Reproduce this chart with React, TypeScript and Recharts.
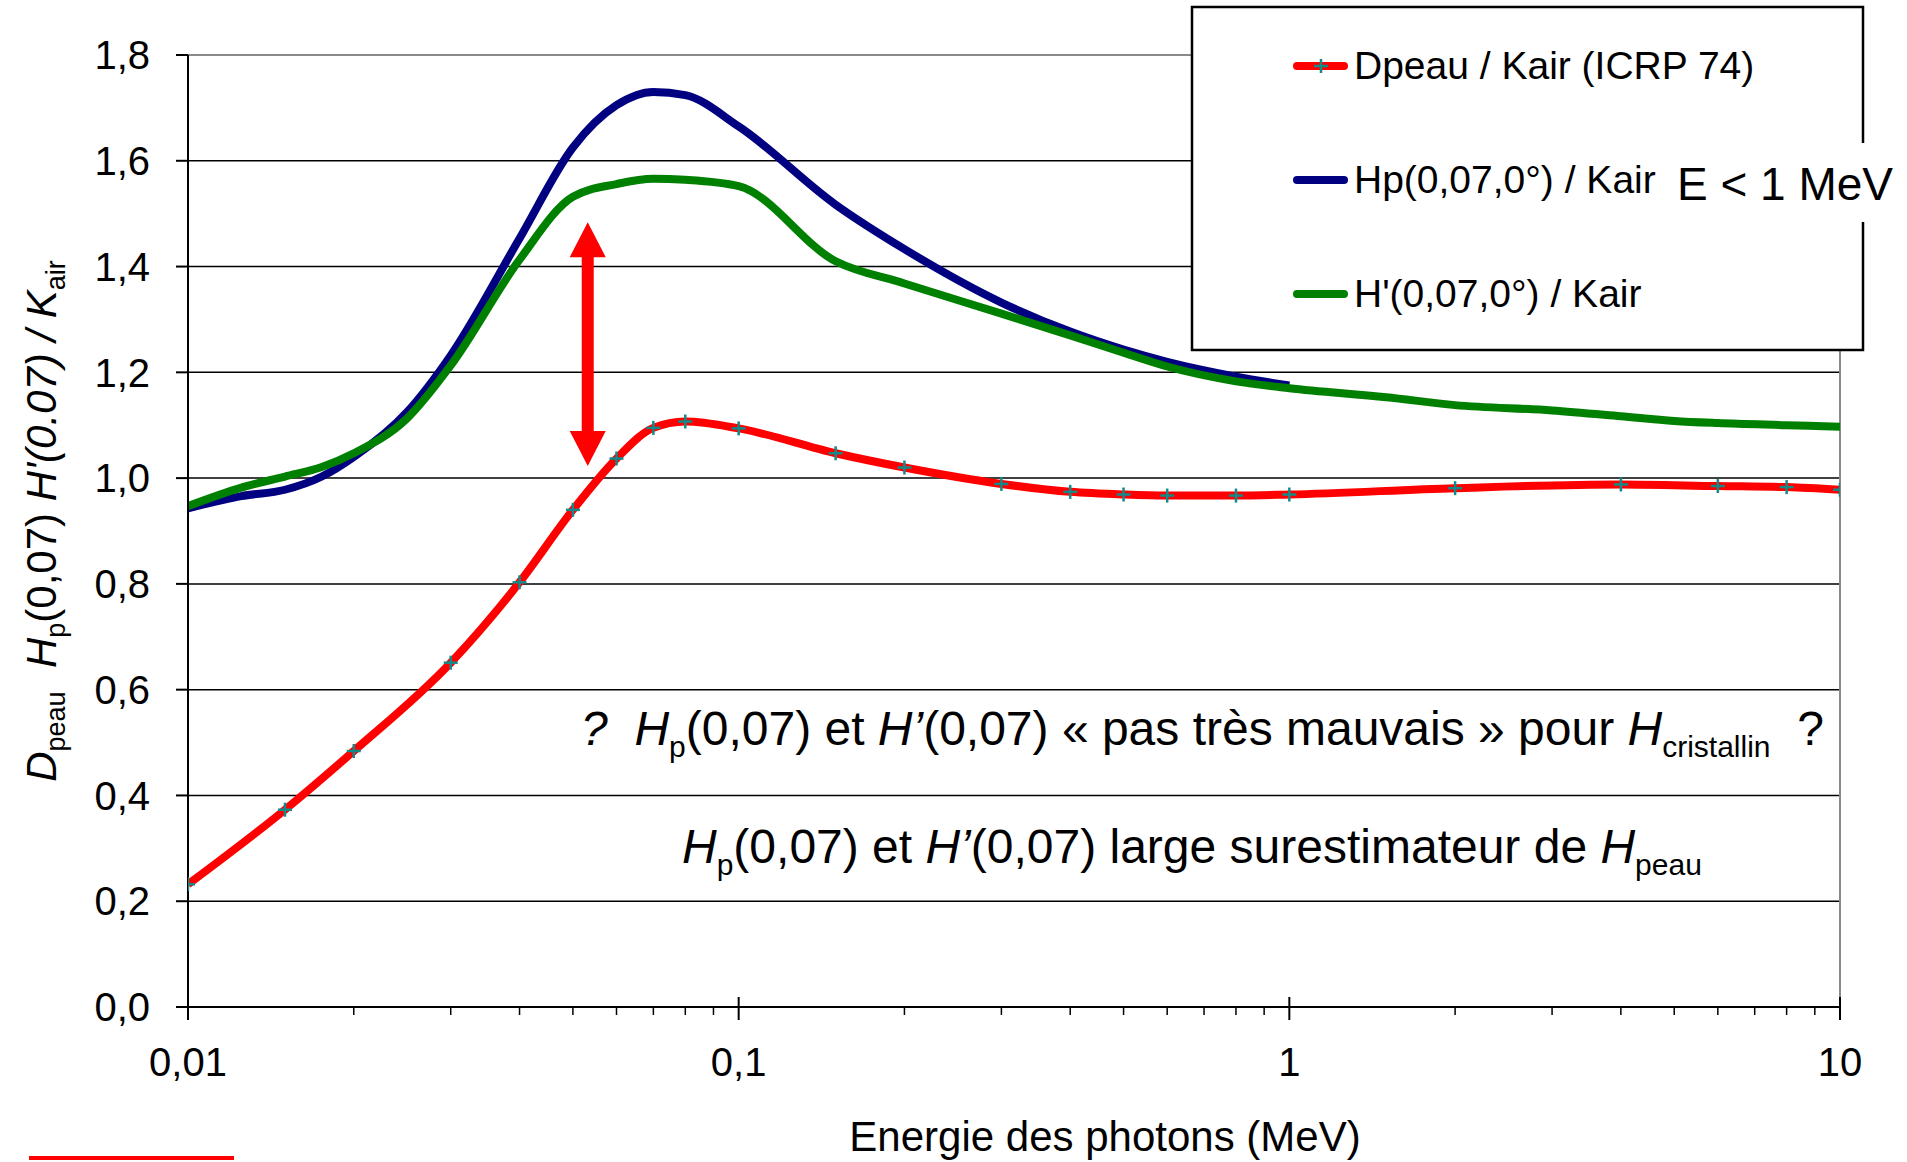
import React from 'react';
import { LineChart, Line, XAxis, YAxis, CartesianGrid, ReferenceLine } from 'recharts';

// ---------- data ----------
const dpeauEnergies = [0.01, 0.015, 0.02, 0.03, 0.04, 0.05, 0.06, 0.07, 0.08, 0.1, 0.15, 0.2, 0.3, 0.4, 0.5, 0.6, 0.8, 1, 2, 4, 6, 8, 10];
const dpeauValues = [0.232, 0.373, 0.484, 0.651, 0.803, 0.94, 1.037, 1.095, 1.107, 1.094, 1.047, 1.02, 0.989, 0.974, 0.969, 0.967, 0.967, 0.969, 0.981, 0.988, 0.985, 0.983, 0.978];

const hpEnergies = [0.01, 0.0125, 0.015, 0.0175, 0.02, 0.025, 0.03, 0.04, 0.05, 0.06, 0.07, 0.08, 0.1, 0.15, 0.2, 0.3, 0.4, 0.5, 0.6, 0.8, 1];
const hpValues = [0.943, 0.966, 0.978, 1.003, 1.04, 1.125, 1.232, 1.453, 1.625, 1.705, 1.73, 1.724, 1.665, 1.517, 1.433, 1.332, 1.277, 1.243, 1.22, 1.192, 1.175];

const hprimeEnergies = [0.01, 0.0125, 0.015, 0.0175, 0.02, 0.025, 0.03, 0.04, 0.05, 0.06, 0.07, 0.08, 0.1, 0.15, 0.2, 0.3, 0.4, 0.5, 0.6, 0.8, 1, 1.5, 2, 3, 4, 5, 6, 8, 10];
const hprimeValues = [0.947, 0.982, 1.003, 1.021, 1.047, 1.113, 1.213, 1.413, 1.532, 1.556, 1.566, 1.564, 1.552, 1.41, 1.368, 1.311, 1.27, 1.237, 1.211, 1.183, 1.17, 1.153, 1.138, 1.128, 1.117, 1.108, 1.104, 1.1, 1.097];

const seriesNames = ['Dpeau / Kair (ICRP 74)', 'Hp(0,07,0°) / Kair', "H'(0,07,0°) / Kair"];

const xMajorTicks = [0.01, 0.1, 1, 10];
const xMajorLabels = ['0,01', '0,1', '1', '10'];
const xAllTicks = [
  0.01, 0.02, 0.03, 0.04, 0.05, 0.06, 0.07, 0.08, 0.09,
  0.1, 0.2, 0.3, 0.4, 0.5, 0.6, 0.7, 0.8, 0.9,
  1, 2, 3, 4, 5, 6, 7, 8, 9, 10,
];
const yTicks = [0, 0.2, 0.4, 0.6, 0.8, 1.0, 1.2, 1.4, 1.6, 1.8];

// annotation arrow (energy, value of tips)
const arrowEnergy = 0.0532;
const arrowTop = 1.484;
const arrowBottom = 1.023;

const toPoints = (es: number[], vs: number[]) => es.map((e, i) => ({ e, v: vs[i] }));
const dpeauData = toPoints(dpeauEnergies, dpeauValues);
const hpData = toPoints(hpEnergies, hpValues);
const hprimeData = toPoints(hprimeEnergies, hprimeValues);

// ---------- styles ----------
const W = 1907;
const H = 1162;
const FONT = '"Liberation Sans", Arial, Helvetica, sans-serif';
const RED = '#FF0000';
const BLUE = '#000080';
const GREEN = '#008000';
const MARK = '#138a8a';

const PlusDot = (p: any) => {
  const { cx, cy, index } = p;
  if (cx == null || cy == null) return <g key={`pd-${index}`} />;
  return (
    <g key={`pd-${index}`}>
      <line x1={cx - 7} x2={cx + 7} y1={cy} y2={cy} stroke={MARK} strokeWidth={2.5} />
      <line x1={cx} x2={cx} y1={cy - 7} y2={cy + 7} stroke={MARK} strokeWidth={2.5} />
    </g>
  );
};

const XTick = (p: any) => {
  const { x, y, payload } = p;
  const v = payload.value;
  const idx = xMajorTicks.findIndex((m) => Math.abs(m - v) / m < 1e-6);
  if (idx >= 0) {
    return (
      <g>
        <line x1={x} x2={x} y1={y - 10} y2={y + 13} stroke="#000" strokeWidth={2} />
        <text x={x} y={y + 69} textAnchor="middle" fontSize={40} fill="#000" fontFamily={FONT}>
          {xMajorLabels[idx]}
        </text>
      </g>
    );
  }
  return <line x1={x} x2={x} y1={y} y2={y + 8} stroke="#000" strokeWidth={1.5} />;
};

const ArrowShape = (p: any) => {
  const { x1, y1, y2 } = p;
  if (x1 == null) return <g />;
  const x = x1;
  const top = Math.min(y1, y2);
  const bot = Math.max(y1, y2);
  const hh = 35;
  const hw = 18;
  const sw = 6;
  const d = `M${x},${top} L${x + hw},${top + hh} L${x + sw},${top + hh} L${x + sw},${bot - hh} L${x + hw},${bot - hh} L${x},${bot} L${x - hw},${bot - hh} L${x - sw},${bot - hh} L${x - sw},${top + hh} L${x - hw},${top + hh} Z`;
  return <path d={d} fill={RED} />;
};

const Overlay = () => {
  const sub = 30;
  const sd = 12;
  return (
    <svg width={W} height={H} style={{ position: 'absolute', left: 0, top: 0, pointerEvents: 'none' }} fontFamily={FONT}>
      {/* Y axis title */}
      <text transform="translate(56,521) rotate(-90)" textAnchor="middle" fontSize={42} fill="#000" style={{ whiteSpace: 'pre' }}>
        <tspan fontStyle="italic">D</tspan>
        <tspan fontSize={27} dy={9}>peau</tspan>
        <tspan dy={-9}>{'  '}</tspan>
        <tspan fontStyle="italic">H</tspan>
        <tspan fontSize={27} dy={9}>p</tspan>
        <tspan dy={-9}>(0,07) </tspan>
        <tspan fontStyle="italic">H'(0.07) / K</tspan>
        <tspan fontSize={27} dy={9}>air</tspan>
      </text>

      {/* annotation line 1 */}
      <text x={581} y={745} fontSize={48} fill="#000" style={{ whiteSpace: 'pre' }}>
        <tspan fontStyle="italic">?</tspan>
        <tspan>{'  '}</tspan>
        <tspan fontStyle="italic">H</tspan>
        <tspan fontSize={sub} dy={sd}>p</tspan>
        <tspan dy={-sd}>(0,07) et </tspan>
        <tspan fontStyle="italic">H’</tspan>
        <tspan>(0,07) « pas très mauvais » pour </tspan>
        <tspan fontStyle="italic">H</tspan>
        <tspan fontSize={sub} dy={sd}>cristallin</tspan>
        <tspan dy={-sd}>{'  ?'}</tspan>
      </text>

      {/* annotation line 2 */}
      <text x={682} y={863} fontSize={48} fill="#000" style={{ whiteSpace: 'pre' }}>
        <tspan fontStyle="italic">H</tspan>
        <tspan fontSize={sub} dy={sd}>p</tspan>
        <tspan dy={-sd}>(0,07) et </tspan>
        <tspan fontStyle="italic">H’</tspan>
        <tspan>(0,07) large surestimateur de </tspan>
        <tspan fontStyle="italic">H</tspan>
        <tspan fontSize={sub} dy={sd}>peau</tspan>
      </text>

      {/* X axis title */}
      <text x={1105} y={1151} textAnchor="middle" fontSize={42} fill="#000">
        Energie des photons (MeV)
      </text>

      {/* legend */}
      <rect x={1192} y={7} width={671} height={343} fill="#fff" stroke="#000" strokeWidth={2.5} />
      <line x1={1297} x2={1344} y1={66} y2={66} stroke={RED} strokeWidth={8} strokeLinecap="round" />
      <line x1={1314} x2={1328} y1={66} y2={66} stroke={MARK} strokeWidth={2.5} />
      <line x1={1321} x2={1321} y1={59} y2={73} stroke={MARK} strokeWidth={2.5} />
      <text x={1354} y={79} fontSize={39} fill="#000">{seriesNames[0]}</text>
      <line x1={1297} x2={1344} y1={180} y2={180} stroke={BLUE} strokeWidth={8} strokeLinecap="round" />
      <text x={1354} y={193} fontSize={39} fill="#000">{seriesNames[1]}</text>
      <line x1={1297} x2={1344} y1={294} y2={294} stroke={GREEN} strokeWidth={8} strokeLinecap="round" />
      <text x={1354} y={307} fontSize={39} fill="#000">{seriesNames[2]}</text>

      {/* E < 1 MeV box */}
      <rect x={1666} y={143} width={241} height={79} fill="#fff" />
      <text x={1677} y={200} fontSize={46} fill="#000">E &lt; 1 MeV</text>

      {/* red underline */}
      <rect x={29} y={1156} width={205} height={4} fill={RED} />
    </svg>
  );
};

export default function App() {
  return (
    <div style={{ position: 'absolute', left: 0, top: 0, width: W, height: H, background: '#fff', fontFamily: FONT }}>
      <LineChart width={W} height={H} margin={{ top: 55, right: 67, bottom: 95, left: 88 }}>
        <CartesianGrid vertical={false} stroke="#000" strokeWidth={1.5} />
        <XAxis
          type="number"
          dataKey="e"
          scale="log"
          domain={[0.01, 10]}
          allowDataOverflow
          ticks={xAllTicks}
          interval={0}
          height={60}
          tickSize={0}
          tickMargin={0}
          tickLine={false}
          axisLine={{ stroke: '#000', strokeWidth: 2 }}
          tick={(p: any) => <XTick {...p} />}
        />
        <YAxis
          type="number"
          domain={[0, 1.8]}
          allowDataOverflow
          ticks={yTicks}
          interval={0}
          width={100}
          tickSize={12}
          tickMargin={26}
          tickLine={{ stroke: '#000', strokeWidth: 2 }}
          axisLine={{ stroke: '#000', strokeWidth: 2 }}
          tick={{ fontSize: 40, fill: '#000', fontFamily: FONT }}
          tickFormatter={(v: number) => v.toFixed(1).replace('.', ',')}
        />
        <ReferenceLine y={1.8} stroke="#8a8a8a" strokeWidth={2} />
        <ReferenceLine x={10} stroke="#8a8a8a" strokeWidth={2} />
        <Line
          data={dpeauData}
          dataKey="v"
          name={seriesNames[0]}
          type="monotone"
          stroke={RED}
          strokeWidth={8}
          dot={(p: any) => <PlusDot key={`pd-${p.index}`} {...p} />}
          activeDot={false}
          isAnimationActive={false}
        />
        <Line
          data={hpData}
          dataKey="v"
          name={seriesNames[1]}
          type="monotone"
          stroke={BLUE}
          strokeWidth={8}
          dot={false}
          activeDot={false}
          isAnimationActive={false}
        />
        <Line
          data={hprimeData}
          dataKey="v"
          name={seriesNames[2]}
          type="monotone"
          stroke={GREEN}
          strokeWidth={8}
          dot={false}
          activeDot={false}
          isAnimationActive={false}
        />
        <ReferenceLine
          segment={[{ x: arrowEnergy, y: arrowTop }, { x: arrowEnergy, y: arrowBottom }]}
          stroke={RED}
          shape={(p: any) => <ArrowShape {...p} />}
        />
      </LineChart>
      <Overlay />
    </div>
  );
}
